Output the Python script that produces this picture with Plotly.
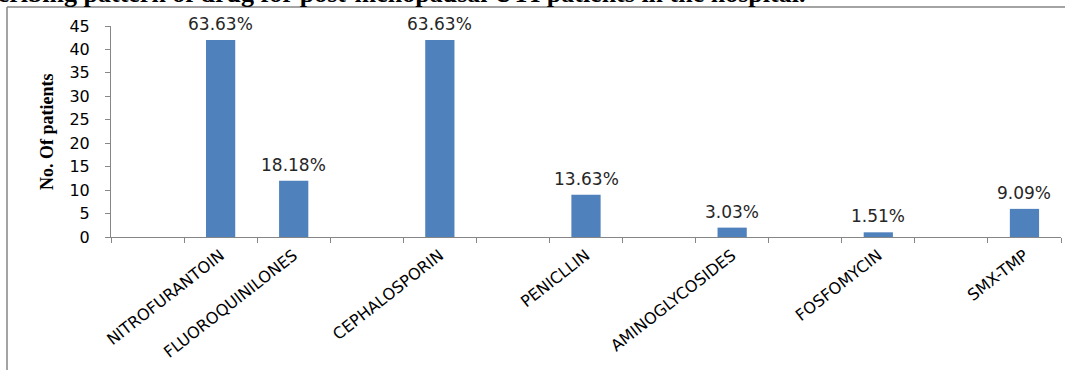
import plotly.graph_objects as go

# ---- data ----
categories = ["", "NITROFURANTOIN", "FLUOROQUINILONES", "", "CEPHALOSPORIN", "",
              "PENICLLIN", "", "AMINOGLYCOSIDES", "", "FOSFOMYCIN", "", "SMX-TMP"]
patients = [None, 42, 12, None, 42, None, 9, None, 2, None, 1, None, 6]
pct_labels = ["", "63.63%", "18.18%", "", "63.63%", "", "13.63%", "", "3.03%", "", "1.51%", "", "9.09%"]
y_ticks = [0, 5, 10, 15, 20, 25, 30, 35, 40, 45]
title_text = "Prescribing pattern of drug for post-menopausal UTI patients in the hospital."
y_title = "No. Of patients"

# ---- layout constants (pixels) ----
W, H = 1065, 370
ML, MR, MT, MB = 111, 4, 26, 133
PW, PH = W - ML - MR, H - MT - MB

def px_x(p):
    return (p - ML) / PW

def px_y(p):
    return (H - MB - p) / PH

pos = list(range(len(categories)))
lab_pos = [p for p, c in zip(pos, categories) if c]
lab_txt = [c for c in categories if c]

AX = "#868686"
fig = go.Figure()
fig.add_trace(go.Bar(x=pos, y=patients, marker=dict(color="#4F81BD", line=dict(width=0)),
                     width=0.4, hoverinfo="skip", showlegend=False))
fig.add_trace(go.Scatter(x=pos, y=[0] * len(pos), xaxis="x2", mode="none",
                         hoverinfo="skip", showlegend=False))

ann = []
for p, v, t in zip(pos, patients, pct_labels):
    if v is None:
        continue
    ann.append(dict(x=p, y=v, xref="x", yref="y", text=t, showarrow=False,
                    yanchor="middle", yshift=16,
                    font=dict(family="DejaVu Sans", size=17, color="#262626")))
ann.append(dict(x=px_x(47), y=px_y(132), xref="paper", yref="paper", text="<b>" + y_title + "</b>",
                textangle=-90, showarrow=False, xanchor="center", yanchor="middle",
                font=dict(family="Liberation Serif", size=18, color="#000")))
ann.append(dict(x=px_x(807), y=px_y(10), xref="paper", yref="paper", text="<b>" + title_text + "</b>",
                showarrow=False, xanchor="right", yanchor="bottom",
                font=dict(family="Liberation Serif", size=26, color="#000")))

shapes = [
    dict(type="line", xref="paper", yref="paper", x0=px_x(7), x1=px_x(1075), y0=px_y(7), y1=px_y(7),
         line=dict(color=AX, width=1.5), layer="above"),
    dict(type="line", xref="paper", yref="paper", x0=px_x(7), x1=px_x(7), y0=px_y(7), y1=px_y(380),
         line=dict(color=AX, width=1.5), layer="above"),
]

fig.update_layout(
    width=W, height=H, autosize=False,
    margin=dict(l=ML, r=MR, t=MT, b=MB, pad=0, autoexpand=False),
    paper_bgcolor="white", plot_bgcolor="white",
    showlegend=False,
    annotations=ann, shapes=shapes,
    xaxis=dict(range=[-0.5, len(pos) - 0.5], tickvals=[p - 0.5 for p in pos] + [len(pos) - 0.5],
               showticklabels=False, ticks="outside", ticklen=5, tickcolor=AX, tickwidth=1,
               showline=True, linecolor=AX, linewidth=1, showgrid=False, zeroline=False,
               automargin=False),
    xaxis2=dict(overlaying="x", anchor="y", side="bottom", range=[-0.5, len(pos) - 0.5],
                tickvals=lab_pos, ticktext=lab_txt, tickangle=-38,
                ticks="outside", ticklen=2, tickcolor="rgba(0,0,0,0)",
                showline=False, showgrid=False, zeroline=False, automargin=False,
                tickfont=dict(family="DejaVu Sans", size=16, color="#000")),
    yaxis=dict(range=[0, 45], tickvals=y_ticks, ticks="outside", ticklen=5, tickcolor=AX,
               showline=True, linecolor=AX, linewidth=1, showgrid=False, zeroline=False,
               ticklabelstandoff=12, automargin=False,
               tickfont=dict(family="DejaVu Sans", size=16, color="#000")),
)

fig.write_html("out.html")
